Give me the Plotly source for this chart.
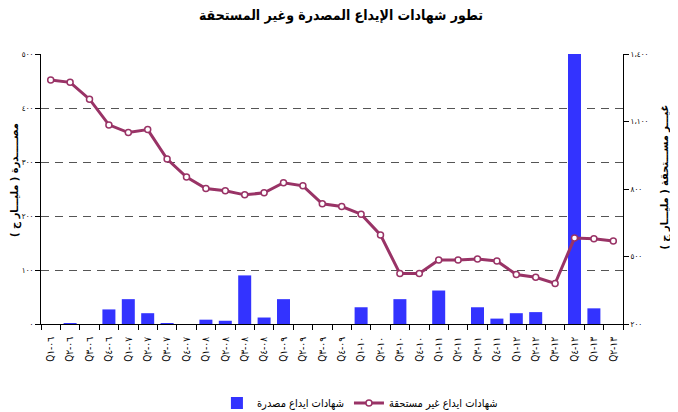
import plotly.graph_objects as go

LRM = "\u200e"

categories = [
    "Q١" + LRM + "-٠٦", "Q٢" + LRM + "-٠٦", "Q٣" + LRM + "-٠٦", "Q٤" + LRM + "-٠٦",
    "Q١" + LRM + "-٠٧", "Q٢" + LRM + "-٠٧", "Q٣" + LRM + "-٠٧", "Q٤" + LRM + "-٠٧",
    "Q١" + LRM + "-٠٨", "Q٢" + LRM + "-٠٨", "Q٣" + LRM + "-٠٨", "Q٤" + LRM + "-٠٨",
    "Q١" + LRM + "-٠٩", "Q٢" + LRM + "-٠٩", "Q٣" + LRM + "-٠٩", "Q٤" + LRM + "-٠٩",
    "Q١" + LRM + "-١٠", "Q٢" + LRM + "-١٠", "Q٣" + LRM + "-١٠", "Q٤" + LRM + "-١٠",
    "Q١" + LRM + "-١١", "Q٢" + LRM + "-١١", "Q٣" + LRM + "-١١", "Q٤" + LRM + "-١١",
    "Q١" + LRM + "-١٢", "Q٢" + LRM + "-١٢", "Q٣" + LRM + "-١٢", "Q٤" + LRM + "-١٢",
    "Q١" + LRM + "-١٣", "Q٢" + LRM + "-١٣",
]

issued = [0, 1, 0, 27, 46, 20, 1, 0,
          8, 6, 90, 12, 46, 0, 0, 0,
          31, 0, 46, 0, 62, 0, 31, 10,
          20, 22, 0, 500, 29, 0]

outstanding = [1284, 1274, 1199, 1085, 1051, 1064, 933, 853,
               802, 792, 774, 783, 828, 814, 734, 722,
               688, 596, 424, 424, 484, 484, 489, 480,
               420, 408, 380, 582, 579, 569]

left_tickvals = [0, 100, 200, 300, 400, 500]
left_ticktext = ["٠", "١٠٠", "٢٠٠", "٣٠٠", "٤٠٠", "٥٠٠"]
right_tickvals = [200, 500, 800, 1100, 1400]
right_ticktext = ["٢٠٠", "٥٠٠", "٨٠٠", "١،١٠٠", "١،٤٠٠"]

title_text = "تطور شهادات الإيداع المصدرة وغير المستحقة"
bar_name = "شهادات ايداع مصدرة"
line_name = "شهادات ايداع غير مستحقة"
left_title = "مصـــــدرة ( مليـــار ج )"
right_title = "غيـــر مســـتحقة ( مليـــار ج )"

FONT = "DejaVu Sans Condensed, DejaVu Sans, sans-serif"

fig = go.Figure()
fig.add_trace(go.Bar(
    x=categories, y=issued, name=bar_name,
    marker=dict(color="#3333FF", line=dict(width=0)),
    yaxis="y",
))
fig.add_trace(go.Scatter(
    x=categories, y=outstanding, name=line_name, mode="lines+markers",
    line=dict(color="#993366", width=3),
    marker=dict(symbol="circle", size=6, color="white",
                line=dict(color="#993366", width=1.5)),
    yaxis="y2",
))

fig.update_layout(
    width=670, height=404,
    margin=dict(l=33, r=55, t=46, b=88, autoexpand=False),
    paper_bgcolor="white", plot_bgcolor="white",
    font=dict(family=FONT, color="black", size=9),
    title=dict(text="<b>" + title_text + "</b>", x=0.497, xanchor="center",
               y=0.983, yanchor="middle", font=dict(size=14, family=FONT)),
    bargap=0.33,
    showlegend=True,
    legend=dict(orientation="h", x=0.548, xanchor="center", y=-0.293, yanchor="middle",
                font=dict(size=11, family=FONT), traceorder="normal",
                itemwidth=30),
    xaxis=dict(
        type="category", range=[-0.5, len(categories) - 0.5],
        showline=True, linecolor="black", linewidth=1,
        ticks="outside", ticklen=5, tickcolor="black", tickson="boundaries",
        tickangle=-90, tickfont=dict(size=10, color="black"), ticklabelstandoff=8,
        showgrid=False, automargin=False,
    ),
    yaxis=dict(
        range=[0, 500], tickvals=left_tickvals, ticktext=left_ticktext,
        showline=True, linecolor="black", linewidth=1,
        ticks="outside", ticklen=5, tickcolor="black",
        showgrid=True, gridcolor="#555555", griddash="8px,6px", gridwidth=1.2,
        zeroline=False, tickfont=dict(size=8, color="black"), automargin=False,
    ),
    yaxis2=dict(
        range=[200, 1400], tickvals=right_tickvals, ticktext=right_ticktext,
        overlaying="y", side="right",
        showline=True, linecolor="black", linewidth=1,
        ticks="outside", ticklen=5, tickcolor="black",
        showgrid=False, zeroline=False, tickfont=dict(size=8, color="black"),
        automargin=False,
    ),
    annotations=[
        dict(text="<b>" + left_title + "</b>", textangle=-90, xref="paper", yref="paper",
             x=-0.045, y=0.533, xanchor="center", yanchor="middle", showarrow=False,
             font=dict(size=11, family=FONT, color="black")),
        dict(text="<b>" + right_title + "</b>", textangle=-90, xref="paper", yref="paper",
             x=1.073, y=0.544, xanchor="center", yanchor="middle", showarrow=False,
             font=dict(size=11, family=FONT, color="black")),
    ],
)

fig.write_html("out.html")
